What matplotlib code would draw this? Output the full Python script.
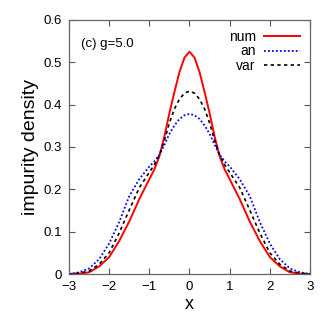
import matplotlib
matplotlib.use("Agg")
import matplotlib.pyplot as plt
from matplotlib.ticker import FuncFormatter

plt.rcParams['font.family'] = ['Liberation Sans Narrow', 'Liberation Sans', 'DejaVu Sans']

x = [-3.0, -2.75, -2.5, -2.25, -2.0, -1.75, -1.5, -1.25, -1.0, -0.875, -0.75, -0.625,
     -0.5, -0.375, -0.25, -0.125, 0.0, 0.125, 0.25, 0.375, 0.5, 0.625, 0.75, 0.875,
     1.0, 1.25, 1.5, 1.75, 2.0, 2.25, 2.5, 2.75, 3.0]

num = [0.0, 0.001, 0.004, 0.018, 0.04, 0.078, 0.124, 0.177, 0.224, 0.247, 0.278, 0.325,
       0.38, 0.43, 0.477, 0.511, 0.525, 0.511, 0.477, 0.43, 0.38, 0.325, 0.278, 0.247,
       0.224, 0.177, 0.124, 0.078, 0.04, 0.018, 0.004, 0.001, 0.0]
an = [0.0, 0.004, 0.013, 0.035, 0.072, 0.123, 0.184, 0.224, 0.254, 0.266, 0.282, 0.305,
      0.331, 0.351, 0.366, 0.375, 0.378, 0.375, 0.366, 0.351, 0.331, 0.305, 0.282, 0.266,
      0.254, 0.224, 0.184, 0.123, 0.072, 0.035, 0.013, 0.004, 0.0]
var = [0.0, 0.002, 0.007, 0.023, 0.05, 0.097, 0.151, 0.204, 0.24, 0.258, 0.281, 0.315,
       0.357, 0.39, 0.413, 0.427, 0.432, 0.427, 0.413, 0.39, 0.357, 0.315, 0.281, 0.258,
       0.24, 0.204, 0.151, 0.097, 0.05, 0.023, 0.007, 0.002, 0.0]

fig = plt.figure(figsize=(3.27, 3.27), dpi=100)
ax = fig.add_axes([0.211, 0.162, 0.737, 0.777])

ax.plot(x, num, color='#ff0000', lw=1.4, label='num')
ax.plot(x, an, color='#0000ff', lw=1.3, ls=(0, (1, 1.2)), label='an')
ax.plot(x, var, color='black', lw=1.2, ls=(0, (2, 2)), label='var')

ax.set_xlim(-3, 3)
ax.set_ylim(0, 0.6)
ax.set_xticks([-3, -2, -1, 0, 1, 2, 3])
ax.set_yticks([0, 0.1, 0.2, 0.3, 0.4, 0.5, 0.6])
ax.yaxis.set_major_formatter(FuncFormatter(lambda v, p: '0' if v == 0 else f'{v:.1f}'))
ax.tick_params(direction='in', top=True, right=True, length=4, width=0.8,
               color='#555555', labelsize=9.5, pad=5)
for s in ax.spines.values():
    s.set_color('#666666')
    s.set_linewidth(0.9)

ax.set_xlabel('x', fontsize=13, labelpad=2)
ax.set_ylabel('impurity density', fontsize=14, labelpad=3)
ax.text(0.05, 0.93, '(c) g=5.0', transform=ax.transAxes, fontsize=9.5, va='top')

ax.legend(loc='upper right', frameon=False, markerfirst=False, fontsize=10,
          handlelength=2.6, labelspacing=0.05, borderaxespad=0.3, handletextpad=0.6)

fig.savefig('out.png', dpi=100)
